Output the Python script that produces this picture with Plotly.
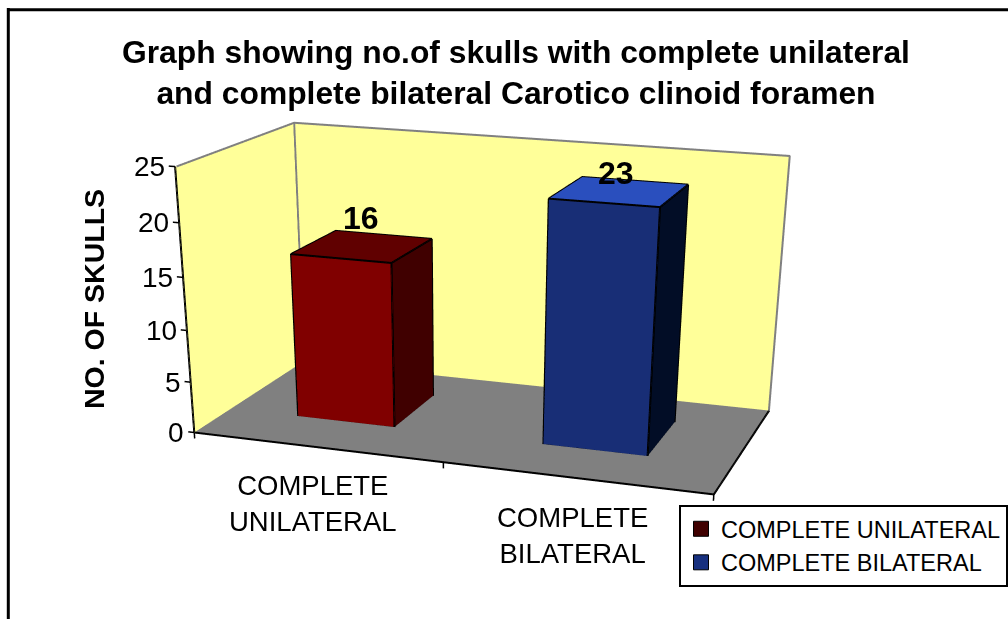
import plotly.graph_objects as go

categories = ["COMPLETE<br>UNILATERAL", "COMPLETE<br>BILATERAL"]
series_names = ["COMPLETE UNILATERAL", "COMPLETE BILATERAL"]
values = [16, 23]
z_ticks = [0, 5, 10, 15, 20, 25]
title_text = "<b>Graph showing no.of skulls with complete unilateral<br>and complete bilateral Carotico clinoid foramen</b>"
z_title = "<b>NO. OF SKULLS</b>"

W, H = 1008, 1500   # tall canvas: flattens plotly's fixed 45-degree perspective; the window shows the top 619 px
FONT = "Liberation Sans"
def py(p):
    return 1 - p / H

bar_centers = [0.4853, 1.4817]
bar_half = 0.2003
depth0, depth1 = 0.3137, 0.7325
XR = [-0.1, 2.1]; YR = [-0.1, 1.1]; ZR = [-2.5, 27.5]

fig = go.Figure()
def quad(a, b, c, d, color):
    pts = [a, b, c, d]
    fig.add_trace(go.Mesh3d(x=[p[0] for p in pts], y=[p[1] for p in pts], z=[p[2] for p in pts],
        i=[0, 0], j=[1, 2], k=[2, 3], color=color, flatshading=True,
        lighting=dict(ambient=1, diffuse=0, specular=0, fresnel=0, roughness=1),
        hoverinfo="skip", showlegend=False, showscale=False))
def line(pts, color, width):
    fig.add_trace(go.Scatter3d(x=[p[0] for p in pts], y=[p[1] for p in pts], z=[p[2] for p in pts], mode="lines",
        line=dict(color=color, width=width), hoverinfo="skip", showlegend=False))

WALL = "#FFFF99"; FLOOR = "#808080"; GREY = "#808080"; BLACK = "#000000"
quad((0,0,0), (2,0,0), (2,1,0), (0,1,0), FLOOR)
quad((0,1,0), (2,1,0), (2,1,25), (0,1,25), WALL)
quad((0,0,0), (0,1,0), (0,1,25), (0,0,25), WALL)
e = 0.004   # lift the wall outlines just off the wall planes so they do not flicker
line([(e,e,25), (e,1-e,25), (2,1-e,25), (2,1-e,0)], GREY, 4)
line([(e,1-e,0.05), (e,1-e,25)], GREY, 4)
line([(0,0,25), (0,0,0), (2,0,0), (2,1,0)], BLACK, 4)
for t in z_ticks:
    line([(0,0,t), (-0.025,0,t)], BLACK, 3)
for t in [0, 1, 2]:
    line([(t,0,0), (t,0,-0.6)], BLACK, 3)

colors = [("#800000", "#600000", "#400000"), ("#182E76", "#2A4FBE", "#020D26")]
for i, v in enumerate(values):
    x0, x1 = bar_centers[i] - bar_half, bar_centers[i] + bar_half
    y0, y1 = depth0, depth1
    fc, tc, sc = colors[i]
    quad((x0,y0,0), (x1,y0,0), (x1,y0,v), (x0,y0,v), fc)
    quad((x0,y0,v), (x1,y0,v), (x1,y1,v), (x0,y1,v), tc)
    quad((x1,y0,0), (x1,y1,0), (x1,y1,v), (x1,y0,v), sc)
    line([(x0,y0,0), (x1,y0,0), (x1,y0,v), (x0,y0,v), (x0,y0,0)], BLACK, 4)
    line([(x0,y0,v), (x0,y1,v), (x1,y1,v), (x1,y0,v)], BLACK, 4)
    line([(x1,y1,v), (x1,y1,0), (x1,y0,0)], BLACK, 4)

legend_colors = ["#400000", "#17307F"]
for i, n in enumerate(series_names):
    fig.add_trace(go.Scatter3d(x=[bar_centers[i]], y=[(depth0 + depth1) / 2], z=[values[i] / 2], mode="markers", name=n,
        marker=dict(symbol="square", size=15, color=legend_colors[i], line=dict(color=BLACK, width=1)), hoverinfo="skip"))

ann = []
for t in z_ticks:
    ann.append(dict(x=0, y=0, z=t, text=str(t), showarrow=False, xanchor="right", xshift=-8,
                    font=dict(size=28, color=BLACK, family=FONT)))
label_shift = [(-2, 28), (-4, 19)]
for i, v in enumerate(values):
    ann.append(dict(x=bar_centers[i], y=(depth0 + depth1) / 2, z=v, text=f"<b>{v}</b>", showarrow=False,
                    xshift=label_shift[i][0], yshift=label_shift[i][1], font=dict(size=32, color=BLACK, family=FONT)))
cat_shift = [(0, -21), (2, -23)]
for i, c in enumerate(categories):
    ann.append(dict(x=bar_centers[i], y=0, z=0, text=c, showarrow=False, yanchor="top",
                    xshift=cat_shift[i][0], yshift=cat_shift[i][1],
                    font=dict(size=27.5, color=BLACK, family=FONT)))

fig.update_layout(
    width=W, height=H, margin=dict(l=0, r=0, t=0, b=0, autoexpand=False), paper_bgcolor="white",
    font=dict(family=FONT, color=BLACK),
    scene=dict(domain=dict(x=[0,1], y=[0,1]), aspectmode="manual",
        aspectratio=dict(x=1.76, y=0.98148, z=0.93278),
        camera=dict(eye=dict(x=1.71610, y=-5.14418, z=1.34273), center=dict(x=0.25325, y=-0.58872, z=-1.20029),
                    up=dict(x=-0.15508, y=0.44310, z=0.88296), projection=dict(type="perspective")),
        xaxis=dict(visible=False, range=XR), yaxis=dict(visible=False, range=YR), zaxis=dict(visible=False, range=ZR),
        annotations=ann, bgcolor="rgba(0,0,0,0)"),
    legend=dict(x=679/W, y=py(505), xanchor="left", yanchor="top", bordercolor=BLACK, borderwidth=2, bgcolor="white",
                itemsizing="trace", font=dict(size=23.5, family=FONT, color=BLACK)),
    shapes=[dict(type="line", xref="paper", yref="paper", x0=8.3/W, x1=8.3/W, y0=py(619), y1=py(8), line=dict(color=BLACK, width=3)),
            dict(type="line", xref="paper", yref="paper", x0=7/W, x1=1, y0=py(9.7), y1=py(9.7), line=dict(color=BLACK, width=3))],
    annotations=[
        dict(xref="paper", yref="paper", x=515.5/W, y=py(72.5), xanchor="center", yanchor="middle", text=title_text, showarrow=False,
             font=dict(size=31.8, family=FONT, color=BLACK)),
        dict(xref="paper", yref="paper", x=94/W, y=py(299), xanchor="center", yanchor="middle", text=z_title, textangle=-90, showarrow=False,
             font=dict(size=28.5, family=FONT, color=BLACK)),
    ],
)
fig.write_html("out.html", config=dict(displayModeBar=False),
    post_script="document.body.style.margin='0';document.documentElement.style.overflow='hidden';document.body.style.overflow='hidden';")
